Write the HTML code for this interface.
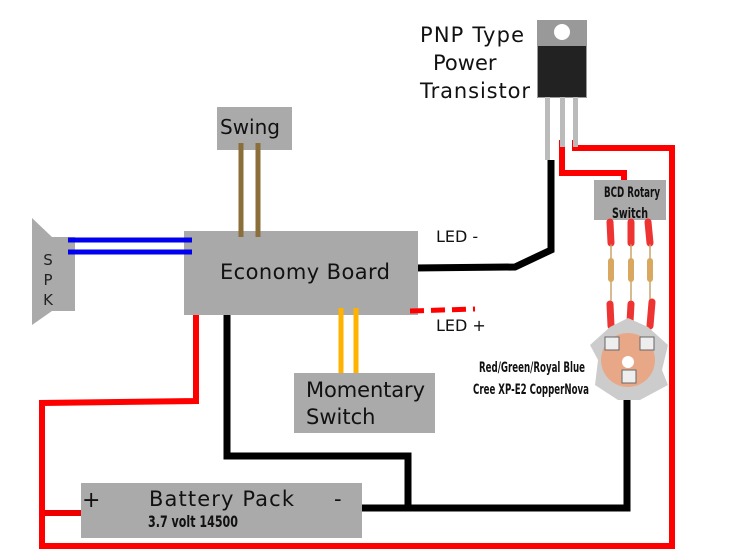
<!DOCTYPE html>
<html><head><style>body{margin:0;background:#fff}svg{display:block}</style></head><body>
<svg width="752" height="554" viewBox="0 0 752 554" xmlns="http://www.w3.org/2000/svg" font-family="'DejaVu Sans','Liberation Sans',sans-serif">
<rect width="752" height="554" fill="#fff"/>
<polyline points="196,308 196,401 42,403 42,546 672,546 672,148 575,148 575,140" fill="none" stroke="#f00" stroke-width="6"/>
<polyline points="562,140 562,173 624,173 624,182" fill="none" stroke="#f00" stroke-width="6"/>
<line x1="45" y1="513" x2="88" y2="513" stroke="#e00" stroke-width="6"/>
<polyline points="551,160 551,250 515,267 414,268" fill="none" stroke="#000" stroke-width="7"/>
<polyline points="227,308 227,456 408,456 408,507" fill="none" stroke="#000" stroke-width="7"/>
<polyline points="358,508 627,508 627,400" fill="none" stroke="#000" stroke-width="7"/>
<polygon points="32,218 52,237 75,237 75,311 52,311 32,325" fill="#aaa"/>
<text x="48" y="265" font-size="15" fill="#222" text-anchor="middle">S</text>
<text x="48" y="285" font-size="15" fill="#222" text-anchor="middle">P</text>
<text x="48" y="305" font-size="15" fill="#222" text-anchor="middle">K</text>
<rect x="184" y="231" width="234" height="84" fill="#a9a9a9"/>
<text x="220" y="279" font-size="21" fill="#111" textLength="170">Economy Board</text>
<line x1="68" y1="240" x2="192" y2="240" stroke="#00e" stroke-width="5"/>
<line x1="68" y1="252" x2="192" y2="252" stroke="#00e" stroke-width="5"/>
<rect x="217" y="107" width="75" height="43" fill="#aaa"/>
<text x="220" y="134" font-size="20" fill="#111">Swing</text>
<line x1="241" y1="143" x2="241" y2="237" stroke="#8b6f3a" stroke-width="5"/>
<line x1="258" y1="143" x2="258" y2="237" stroke="#8b6f3a" stroke-width="5"/>
<line x1="341" y1="308" x2="341" y2="373" stroke="#ffb300" stroke-width="5"/>
<line x1="356" y1="308" x2="356" y2="373" stroke="#ffb300" stroke-width="5"/>
<rect x="294" y="373" width="141" height="60" fill="#aaa"/>
<text x="306" y="397" font-size="21" fill="#111" textLength="119">Momentary</text>
<text x="306" y="424" font-size="21" fill="#111">Switch</text>
<text x="436" y="242" font-size="16" fill="#111">LED -</text>
<text x="436" y="331" font-size="16" fill="#111">LED +</text>
<line x1="410" y1="311" x2="475" y2="309" stroke="#f00" stroke-width="5" stroke-dasharray="14,7"/>
<rect x="81" y="483" width="281" height="55" fill="#aaa"/>
<text x="82" y="507" font-size="22" fill="#111">+</text>
<text x="149" y="506" font-size="21" fill="#111" textLength="145">Battery Pack</text>
<text x="334" y="506" font-size="21" fill="#111">-</text>
<text x="148" y="527" font-size="16" font-weight="bold" fill="#111" textLength="90" lengthAdjust="spacingAndGlyphs">3.7 volt 14500</text>
<text x="420" y="42" font-size="21" fill="#111" textLength="104">PNP Type</text>
<text x="433" y="70" font-size="21" fill="#111">Power</text>
<text x="420" y="98" font-size="21" fill="#111" textLength="110">Transistor</text>
<rect x="537" y="20" width="50" height="78" fill="#999"/>
<circle cx="562" cy="32" r="8" fill="#fff"/>
<rect x="538" y="46" width="48" height="51" fill="#222"/>
<rect x="545" y="97" width="5" height="63" fill="#bbb"/>
<rect x="560" y="97" width="5" height="50" fill="#bbb"/>
<rect x="573" y="97" width="5" height="50" fill="#bbb"/>
<rect x="594" y="180" width="72" height="40" fill="#aaa"/>
<text x="604" y="197" font-size="14" font-weight="bold" fill="#111" textLength="56" lengthAdjust="spacingAndGlyphs">BCD Rotary</text>
<text x="612" y="218" font-size="14" font-weight="bold" fill="#111" textLength="36" lengthAdjust="spacingAndGlyphs">Switch</text>
<g stroke-linecap="round">
<line x1="610" y1="222" x2="611" y2="243" stroke="#e33" stroke-width="7"/>
<line x1="631" y1="222" x2="631" y2="243" stroke="#e33" stroke-width="7"/>
<line x1="648" y1="222" x2="650" y2="243" stroke="#e33" stroke-width="7"/>
<line x1="611" y1="245" x2="611" y2="300" stroke="#c9a36b" stroke-width="1.5"/>
<line x1="631" y1="245" x2="631" y2="300" stroke="#c9a36b" stroke-width="1.5"/>
<line x1="650" y1="245" x2="650" y2="300" stroke="#c9a36b" stroke-width="1.5"/>
<line x1="611" y1="261" x2="611" y2="279" stroke="#d9a860" stroke-width="6"/>
<line x1="631" y1="261" x2="631" y2="279" stroke="#d9a860" stroke-width="6"/>
<line x1="650" y1="261" x2="650" y2="279" stroke="#d9a860" stroke-width="6"/>
<line x1="610" y1="304" x2="611" y2="326" stroke="#e33" stroke-width="7"/>
<line x1="631" y1="304" x2="630" y2="322" stroke="#e33" stroke-width="7"/>
<line x1="652" y1="302" x2="650" y2="326" stroke="#e33" stroke-width="7"/>
</g>
<polygon points="628,318 648,327 668,345 662,370 668,385 640,400 618,400 595,385 598,360 590,345 610,327" fill="#ccc"/>
<circle cx="628" cy="360" r="27" fill="#e8a888"/>
<circle cx="628" cy="362" r="6" fill="#fff"/>
<rect x="605" y="337" width="14" height="13" fill="#eee" stroke="#666"/>
<rect x="640" y="337" width="14" height="13" fill="#eee" stroke="#666"/>
<rect x="622" y="370" width="14" height="13" fill="#eee" stroke="#666"/>
<text x="479" y="372" font-size="14" font-weight="bold" fill="#111" textLength="106" lengthAdjust="spacingAndGlyphs">Red/Green/Royal Blue</text>
<text x="473" y="394" font-size="14" font-weight="bold" fill="#111" textLength="116" lengthAdjust="spacingAndGlyphs">Cree XP-E2 CopperNova</text>
</svg>
</body></html>
